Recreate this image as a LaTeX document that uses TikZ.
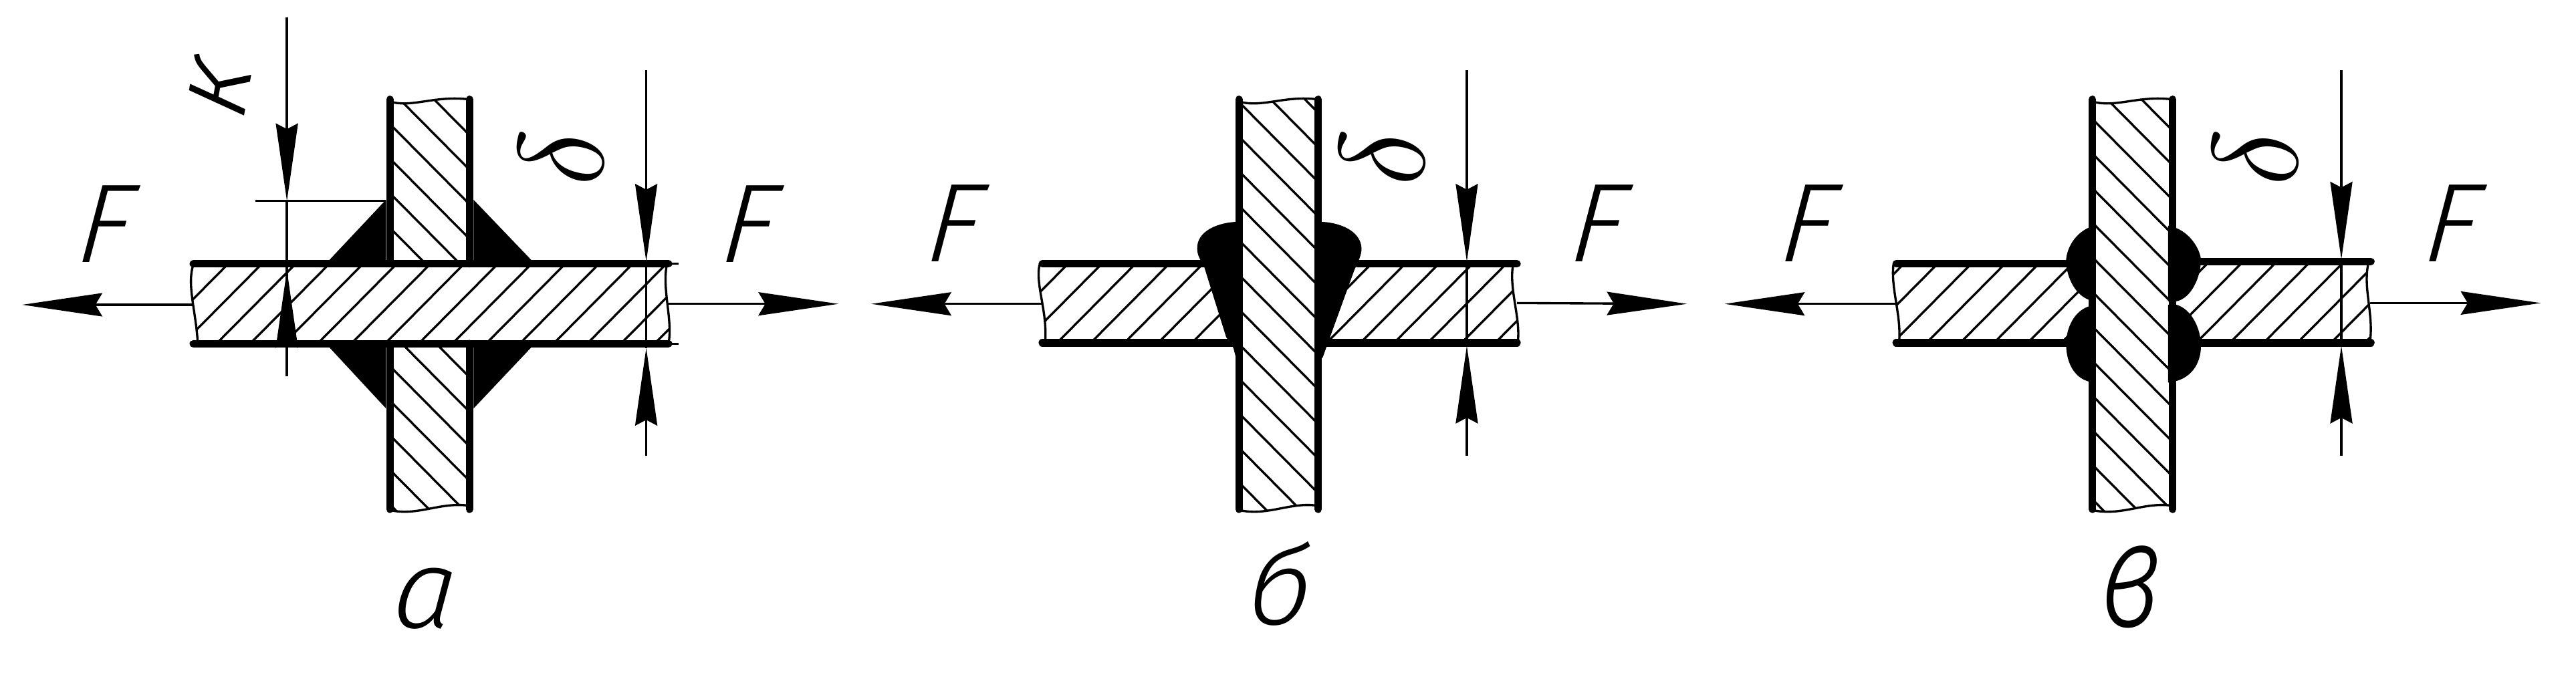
\documentclass[tikz,border=0pt]{standalone}
\usepackage{fontspec}
\setmainfont{Fira Sans}[UprightFont=* Light, ItalicFont=* Light Italic, ItalicFeatures={FakeSlant=0.12}]
\usetikzlibrary{arrows.meta}
\newcommand{\gost}{\fontsize{95}{95}\selectfont\itshape}
\newcommand{\dlt}{\scalebox{4.15}{$\delta$}}
\newcommand{\hhatch}[1]{\foreach \k in {-6,...,22}{\pgfmathsetmacro\cc{#1+60.5*\k}\draw[thin line] (\cc,0) -- (\cc-923,1200);}}
\newcommand{\vhatch}[2]{\foreach \k in {-3,...,14}{\pgfmathsetmacro\yy{#2+80*\k}\draw[thin line] (#1,\yy) -- (#1+170,\yy+221);}}
\tikzset{
  x=0.4724pt,y=-0.3667pt,
  thin line/.style={line width=1.9pt,black},
  thick line/.style={line width=6.4pt,black,line cap=round},
  weld/.style={fill=black,draw=none},
  dimline/.style={line width=1.9pt,black},
  dimtip/.style={-{Stealth[length=66pt,width=19pt,inset=5pt,line width=0pt]}},
  forcetip/.style={-{Stealth[length=68pt,width=20pt,inset=6pt,line width=0pt]}},
  letter/.style={inner sep=0pt,font=\gost},
}
\begin{document}
\begin{tikzpicture}
\useasboundingbox (0,0) rectangle (4624,1560);
% ---------- panel a
\begin{scope}
 \begin{scope}\clip (347,612) .. controls (335,660) and (352,720) .. (355,795) -- (1200,795) .. controls (1208,740) and (1188,670) .. (1197,612) -- cycle; \hhatch{1000} \end{scope}
 \begin{scope}\clip (700,235) .. controls (740,250) and (780,220) .. (843,230) -- (843,610) -- (700,610) -- cycle; \vhatch{700}{207} \end{scope}
 \begin{scope}\clip (700,795) -- (843,795) -- (843,1170) .. controls (790,1160) and (750,1195) .. (700,1180) -- cycle; \vhatch{700}{207} \end{scope}
 \draw[thin line] (347,612) .. controls (335,660) and (352,720) .. (355,795);
 \draw[thin line] (1197,612) .. controls (1188,670) and (1208,740) .. (1200,795);
 \draw[thin line] (700,235) .. controls (740,250) and (780,220) .. (843,230);
 \draw[thin line] (700,1180) .. controls (750,1195) and (790,1160) .. (843,1170);
 \draw[thin line] (1200,610) -- (1218,610) (1200,795) -- (1218,795);
 \fill[weld] (693,462) -- (693,610) -- (585,610) -- cycle;
 \fill[weld] (850,462) -- (960,610) -- (850,610) -- cycle;
 \fill[weld] (693,945) -- (693,795) -- (585,795) -- cycle;
 \fill[weld] (850,945) -- (960,795) -- (850,795) -- cycle;
 \draw[thick line] (700,230) -- (700,610) (843,230) -- (843,610) (700,795) -- (700,1178) (843,795) -- (843,1178);
 \draw[thick line] (347,610) -- (1200,610) (347,795) -- (1200,795);
 \coordinate (aKT) at (515,40); \coordinate (aKa) at (515,465); \coordinate (aKb) at (515,625); \coordinate (aKB) at (515,870); \coordinate (aKe) at (458,465); \coordinate (aKw) at (693,465);
 \draw[dimline] (aKe) -- (aKw);
 \draw[dimline] (aKB) -- (aKa);
 \draw[dimline,dimtip] (aKT) -- (aKa);
 \draw[dimline,dimtip] (aKB) -- (aKb);
 \coordinate (aDT) at (1160,162); \coordinate (aDa) at (1160,605); \coordinate (aDb) at (1160,805); \coordinate (aDB) at (1160,1055);
 \draw[dimline] (aDa) -- (aDb);
 \draw[dimline,dimtip] (aDT) -- (aDa);
 \draw[dimline,dimtip] (aDB) -- (aDb);
 \coordinate (aFl) at (347,705); \coordinate (aFL) at (40,705); \coordinate (aFr) at (1200,703); \coordinate (aFR) at (1505,703);
 \draw[dimline,forcetip] (aFl) -- (aFL);
 \draw[dimline,forcetip] (aFr) -- (aFR);
 \node[letter] (aF1) at (182,518) {F};
 \node[letter] (aF2) at (1338,518) {F};
 \node[letter] (aL) at (757,1385) {а};
 \node[letter,rotate=80] (aK) at (392,207) {к};
 \node[letter,rotate=90] (aD) at (1007,365) {\dlt};
\end{scope}
% ---------- panel b
\begin{scope}[xshift=725.6pt]
 \begin{scope}\clip (330,612) .. controls (322,660) and (345,720) .. (340,795) -- (688,795) -- (688,612) -- cycle; \hhatch{971.5} \end{scope}
 \begin{scope}\clip (830,612) -- (1180,612) .. controls (1172,670) and (1195,740) .. (1188,795) -- (830,795) -- cycle; \hhatch{971.5} \end{scope}
 \begin{scope}\clip (688,235) .. controls (730,250) and (770,220) .. (830,230) -- (830,1170) .. controls (780,1160) and (740,1195) .. (688,1180) -- cycle; \vhatch{688}{236} \end{scope}
 \draw[thin line] (330,612) .. controls (322,660) and (345,720) .. (340,795);
 \draw[thin line] (1180,612) .. controls (1172,670) and (1195,740) .. (1188,795);
 \draw[thin line] (688,235) .. controls (730,250) and (770,220) .. (830,230);
 \draw[thin line] (688,1180) .. controls (740,1195) and (780,1160) .. (830,1170);
 \fill[weld] (690,513) .. controls (650,513) and (612,535) .. (613,575) .. controls (613,590) and (618,600) .. (625,615) -- (665,780) -- (678,805) -- (682,825) -- (690,825) -- cycle;
 \fill[weld] (830,513) .. controls (870,513) and (907,535) .. (908,575) .. controls (908,590) and (902,605) .. (895,625) -- (850,785) -- (843,810) -- (838,828) -- (830,828) -- cycle;
 \draw[thick line] (688,230) -- (688,1178) (830,230) -- (830,1178);
 \draw[thick line] (335,610) -- (640,610) (900,610) -- (1187,610) (335,793) -- (675,793) (845,793) -- (1187,793);
 \coordinate (bDT) at (1097,162); \coordinate (bDa) at (1097,605); \coordinate (bDb) at (1097,800); \coordinate (bDB) at (1097,1055);
 \draw[dimline] (bDa) -- (bDb);
 \draw[dimline,dimtip] (bDT) -- (bDa);
 \draw[dimline,dimtip] (bDB) -- (bDb);
 \coordinate (bFl) at (335,703); \coordinate (bFL) at (28,703); \coordinate (bFr) at (1187,701); \coordinate (bFR) at (1492,703);
 \draw[dimline,forcetip] (bFl) -- (bFL);
 \draw[dimline,forcetip] (bFr) -- (bFR);
 \node[letter] (bF1) at (170,516) {F};
 \node[letter] (bF2) at (1326,516) {F};
 \node[letter] (bL) at (755,1350) {б};
 \node[letter,rotate=90] (bD) at (945,365) {\dlt};
\end{scope}
% ---------- panel c
\begin{scope}[xshift=1447.3pt]
 \begin{scope}\clip (335,612) .. controls (330,670) and (350,730) .. (345,795) -- (692,795) -- (692,612) -- cycle; \hhatch{1004.5} \end{scope}
 \begin{scope}\clip (836,612) -- (1187,612) .. controls (1178,670) and (1198,730) .. (1190,795) -- (836,795) -- cycle; \hhatch{1004.5} \end{scope}
 \begin{scope}\clip (692,235) .. controls (735,250) and (775,220) .. (836,230) -- (836,1170) .. controls (785,1160) and (745,1195) .. (692,1180) -- cycle; \vhatch{692}{275} \end{scope}
 \draw[thin line] (335,612) .. controls (330,670) and (350,730) .. (345,795);
 \draw[thin line] (1187,612) .. controls (1178,670) and (1198,730) .. (1190,795);
 \draw[thin line] (692,235) .. controls (735,250) and (775,220) .. (836,230);
 \draw[thin line] (692,1180) .. controls (745,1195) and (785,1160) .. (836,1170);
 \fill[weld] (695,522) .. controls (660,535) and (643,580) .. (645,610) .. controls (648,650) and (665,690) .. (695,697) -- cycle;
 \fill[weld] (695,706) .. controls (660,712) and (644,760) .. (645,800) .. controls (646,840) and (660,880) .. (695,885) -- cycle;
 \fill[weld] (828,522) .. controls (865,530) and (885,575) .. (887,600) .. controls (887,640) and (870,690) .. (843,697) -- (828,697) -- cycle;
 \fill[weld] (828,705) -- (843,705) .. controls (870,715) and (887,760) .. (887,800) .. controls (887,840) and (870,880) .. (828,885) -- cycle;
 \draw[thick line] (692,230) -- (692,1178) (836,230) -- (836,1178);
 \draw[thick line] (340,610) -- (660,610) (880,605) -- (1192,605) (340,793) -- (660,793) (880,793) -- (1192,793);
 \coordinate (cDT) at (1139,162); \coordinate (cDa) at (1139,600); \coordinate (cDb) at (1139,800); \coordinate (cDB) at (1139,1055);
 \draw[dimline] (cDa) -- (cDb);
 \draw[dimline,dimtip] (cDT) -- (cDa);
 \draw[dimline,dimtip] (cDB) -- (cDb);
 \coordinate (cFl) at (340,703); \coordinate (cFL) at (32,703); \coordinate (cFr) at (1190,701); \coordinate (cFR) at (1497,701);
 \draw[dimline,forcetip] (cFl) -- (cFL);
 \draw[dimline,forcetip] (cFr) -- (cFR);
 \node[letter] (cF1) at (175,516) {F};
 \node[letter] (cF2) at (1330,516) {F};
 \node[letter] (cL) at (755,1358) {\scalebox{1}[1.35]{в}};
 \node[letter,rotate=90] (cD) at (985,365) {\dlt};
\end{scope}
\end{tikzpicture}
\end{document}
